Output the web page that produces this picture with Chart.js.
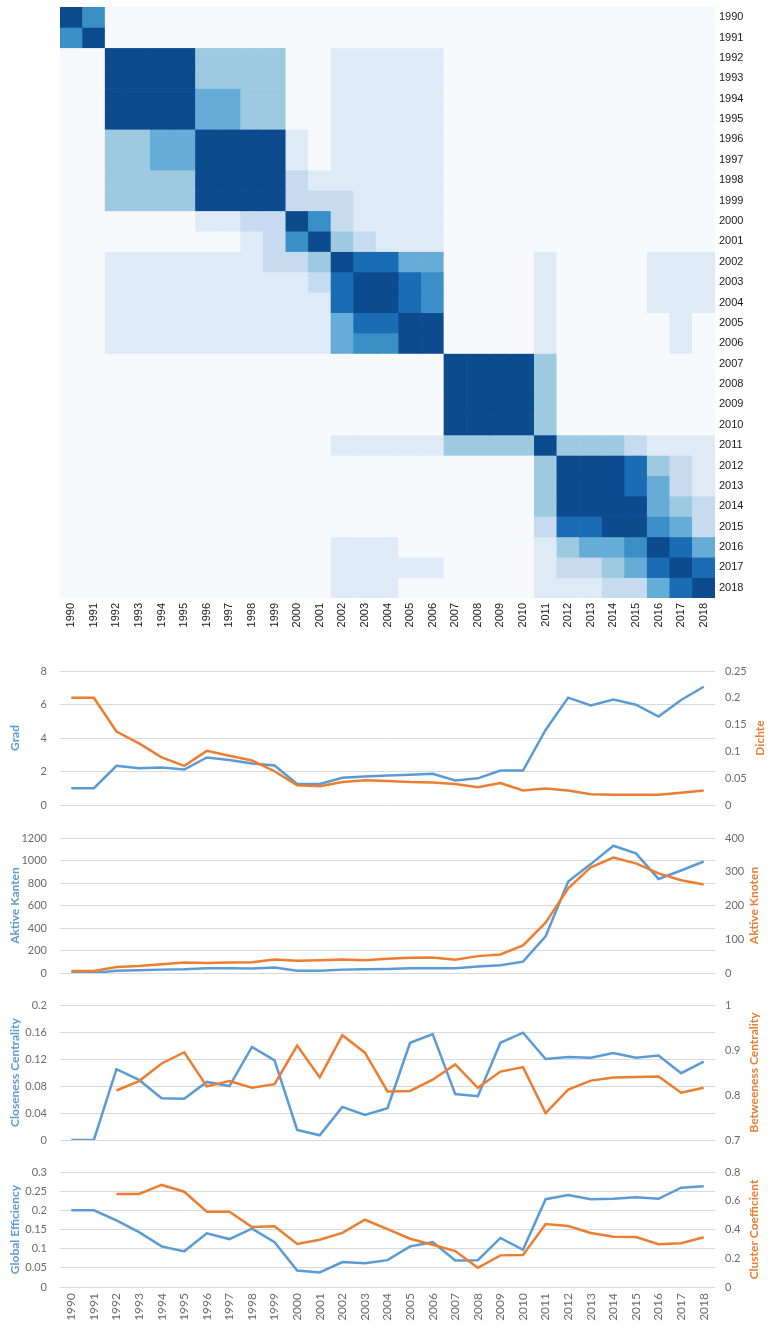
<!DOCTYPE html>
<html>
<head>
<meta charset="utf-8">
<script src="https://cdn.jsdelivr.net/npm/chart.js@4.4.1/dist/chart.umd.min.js"></script>
<style>
body { margin: 0; background: #fff; }
#wrap { position: relative; width: 784px; height: 1328px; overflow: hidden; }
canvas { position: absolute; left: 0; }
</style>
</head>
<body>
<div id="wrap">
  <canvas id="heat" width="784" height="650" style="top:0"></canvas>
  <canvas id="c1" width="784" height="158" style="top:659px"></canvas>
  <canvas id="c2" width="784" height="159" style="top:826px"></canvas>
  <canvas id="c3" width="784" height="159" style="top:993px"></canvas>
  <canvas id="c4" width="784" height="168" style="top:1160px"></canvas>
</div>
<script>
const years = ['1990','1991','1992','1993','1994','1995','1996','1997','1998','1999',
  '2000','2001','2002','2003','2004','2005','2006','2007','2008','2009',
  '2010','2011','2012','2013','2014','2015','2016','2017','2018']

// Farbstufe je Zelle (0 = leer, 7 = dunkelblau), eine Zeile pro Jahr
const heatRows = [
  '75000000000000000000000000000',
  '57000000000000000000000000000',
  '00777733330011111000000000000',
  '00777733330011111000000000000',
  '00777744330011111000000000000',
  '00777744330011111000000000000',
  '00334477771011111000000000000',
  '00334477771011111000000000000',
  '00333377772111111000000000000',
  '00333377772221111000000000000',
  '00000011227521111000000000000',
  '00000000125732111000000000000',
  '00111111122376644000010000111',
  '00111111111267765000010000111',
  '00111111111167765000010000111',
  '00111111111146677000010000010',
  '00111111111145577000010000010',
  '00000000000000000777730000000',
  '00000000000000000777730000000',
  '00000000000000000777730000000',
  '00000000000000000777730000000',
  '00000000000011111333373332111',
  '00000000000000000000037776321',
  '00000000000000000000037776421',
  '00000000000000000000037777432',
  '00000000000000000000026677542',
  '00000000000011100000013445764',
  '00000000000011111000012234676',
  '00000000000011100000011122467'
]

const grad = [1.0, 1.0, 2.34, 2.2, 2.24, 2.12, 2.84, 2.68, 2.48, 2.36, 1.25, 1.25, 1.63, 1.7, 1.76,
  1.8, 1.86, 1.47, 1.59, 2.06, 2.06, 4.48, 6.41, 5.95, 6.29, 5.99, 5.28, 6.27, 7.06]
const dichte = [0.2, 0.2, 0.137, 0.115, 0.089, 0.073, 0.101, 0.092, 0.083, 0.063, 0.037, 0.035, 0.043, 0.046, 0.045,
  0.043, 0.042, 0.039, 0.033, 0.041, 0.027, 0.031, 0.027, 0.020, 0.019, 0.019, 0.019, 0.023, 0.027]

const aktiveKanten = [0, 0, 21, 24, 30, 33, 42, 42, 39, 48, 21, 21, 30, 33, 36,
  42, 42, 42, 57, 68, 101, 327, 813, 968, 1131, 1063, 836, 911, 991]
const aktiveKnoten = [6, 6, 18, 21, 26, 31, 30, 31, 32, 40, 36, 38, 40, 38, 42,
  45, 46, 39, 50, 55, 82, 149, 251, 313, 342, 325, 295, 275, 262]

const closeness = [0, 0, 0.105, 0.089, 0.062, 0.061, 0.086, 0.080, 0.138, 0.118, 0.015, 0.007, 0.049, 0.037, 0.047,
  0.144, 0.157, 0.068, 0.065, 0.144, 0.159, 0.120, 0.123, 0.122, 0.129, 0.122, 0.125, 0.099, 0.116]
const betweeness = [null, null, 0.810, 0.831, 0.870, 0.895, 0.819, 0.831, 0.816, 0.824, 0.910, 0.839, 0.933, 0.894, 0.808,
  0.809, 0.834, 0.868, 0.816, 0.852, 0.862, 0.760, 0.812, 0.832, 0.839, 0.840, 0.841, 0.805, 0.816]

const globalEff = [0.2, 0.2, 0.174, 0.143, 0.106, 0.093, 0.140, 0.125, 0.152, 0.117, 0.043, 0.038, 0.065, 0.062, 0.070,
  0.106, 0.117, 0.069, 0.070, 0.128, 0.097, 0.229, 0.240, 0.229, 0.230, 0.234, 0.230, 0.259, 0.263]
const clusterCoef = [null, null, 0.647, 0.647, 0.710, 0.663, 0.524, 0.524, 0.417, 0.422, 0.299, 0.329, 0.376, 0.468, 0.403,
  0.336, 0.294, 0.250, 0.134, 0.220, 0.223, 0.438, 0.424, 0.376, 0.350, 0.348, 0.297, 0.304, 0.346]

const palette = ['#f7f9fc', '#deebf7', '#c6dbef', '#9ecae1', '#65acd6', '#3a8fc7', '#1a6cb4', '#0c4c8e']
const blau = '#5b9bd5'
const orange = '#ed7d31'
const grau = '#6b6b6b'
const schrift = 'Lato, "Open Sans", sans-serif'

// HEATMAP
new Chart(document.getElementById('heat'), {
  type: 'bar',
  data: {
    labels: years,
    datasets: heatRows.map((row, r) => ({
      label: years[r],
      data: years.map(() => 1),
      backgroundColor: row.split('').map(d => palette[+d]),
      borderWidth: 0,
      barPercentage: 1,
      categoryPercentage: 1
    }))
  },
  options: {
    responsive: false,
    animation: false,
    layout: { padding: { top: 7, left: 60 } },
    plugins: { legend: { display: false }, tooltip: { enabled: false } },
    scales: {
      x: {
        stacked: true,
        grid: { display: false, drawTicks: false },
        border: { display: false },
        ticks: { autoSkip: false, minRotation: 90, maxRotation: 90, padding: 5,
          color: '#1a1a1a', font: { family: '"Liberation Sans", Arial, sans-serif', size: 11 } },
        afterFit: s => { s.height = 52; s.paddingLeft = 0; s.paddingRight = 0 }
      },
      y: {
        stacked: true,
        position: 'right',
        reverse: true,
        min: 0,
        max: 29,
        grid: { display: false, drawTicks: false },
        border: { display: false },
        afterBuildTicks: s => { s.ticks = years.map((_, i) => ({ value: i + 0.5 })) },
        ticks: { autoSkip: false, padding: 4, callback: v => years[Math.floor(v)],
          color: '#1a1a1a', font: { family: '"Liberation Sans", Arial, sans-serif', size: 11 } },
        afterFit: s => { s.width = 69; s.paddingTop = 0; s.paddingBottom = 0 }
      }
    }
  }
})

// rechte Achsentitel von unten nach oben lesen
const rechterTitel = {
  id: 'rechterTitel',
  afterDraw(chart, args, opts) {
    const { ctx, chartArea } = chart
    ctx.save()
    ctx.translate(opts.x, (chartArea.top + chartArea.bottom) / 2)
    ctx.rotate(-Math.PI / 2)
    ctx.font = 'bold 12px ' + schrift
    ctx.fillStyle = orange
    ctx.textAlign = 'center'
    ctx.textBaseline = 'middle'
    ctx.fillText(opts.text, 0, 0)
    ctx.restore()
  }
}

const zahl = v => String(Math.round(v * 1000) / 1000)

function liniendiagramm(id, o) {
  return new Chart(document.getElementById(id), {
    type: 'line',
    data: {
      labels: years,
      datasets: [
        { data: o.links, yAxisID: 'y', borderColor: blau, backgroundColor: blau, order: 1 },
        { data: o.rechts, yAxisID: 'y1', borderColor: orange, backgroundColor: orange, order: 0 }
      ]
    },
    options: {
      responsive: false,
      animation: false,
      layout: { padding: { top: 12, bottom: o.mitX ? 0 : 12 } },
      elements: { point: { radius: 0 }, line: { borderWidth: 2.5, tension: 0 } },
      plugins: {
        legend: { display: false },
        tooltip: { enabled: false },
        rechterTitel: { text: o.titelRechts, x: o.titelX }
      },
      scales: {
        x: {
          display: o.mitX,
          offset: true,
          grid: { display: false, drawTicks: false },
          border: { display: false },
          ticks: { autoSkip: false, minRotation: 90, maxRotation: 90, padding: 6,
            color: grau, font: { family: schrift, size: 12 } },
          afterFit: s => { if (o.mitX) { s.height = 41; s.paddingLeft = 0; s.paddingRight = 0 } }
        },
        y: {
          position: 'left',
          min: o.lMin, max: o.lMax,
          grid: { color: '#d9d9d9', drawTicks: false },
          border: { display: false },
          ticks: { stepSize: o.lStep, autoSkip: false, padding: 13, color: grau,
            font: { family: schrift, size: 11 }, callback: zahl },
          title: { display: true, text: o.titelLinks, color: blau, padding: { top: 8, bottom: 0 },
            font: { family: schrift, size: 12, weight: 'bold' } },
          afterFit: s => { s.width = 60; s.paddingTop = 0; s.paddingBottom = 0 }
        },
        y1: {
          position: 'right',
          min: o.rMin, max: o.rMax,
          grid: { display: false, drawTicks: false },
          border: { display: false },
          ticks: { stepSize: o.rStep, autoSkip: false, padding: 10, color: grau,
            font: { family: schrift, size: 11 }, callback: zahl },
          afterFit: s => { s.width = 69; s.paddingTop = 0; s.paddingBottom = 0 }
        }
      }
    },
    plugins: [rechterTitel]
  })
}

liniendiagramm('c1', { links: grad, rechts: dichte, lMin: 0, lMax: 8, lStep: 2, rMin: 0, rMax: 0.25, rStep: 0.05,
  titelLinks: 'Grad', titelRechts: 'Dichte', titelX: 760, mitX: false })
liniendiagramm('c2', { links: aktiveKanten, rechts: aktiveKnoten, lMin: 0, lMax: 1200, lStep: 200, rMin: 0, rMax: 400, rStep: 100,
  titelLinks: 'Aktive Kanten', titelRechts: 'Aktive Knoten', titelX: 754, mitX: false })
liniendiagramm('c3', { links: closeness, rechts: betweeness, lMin: 0, lMax: 0.2, lStep: 0.04, rMin: 0.7, rMax: 1, rStep: 0.1,
  titelLinks: 'Closeness Centrality', titelRechts: 'Betweeness Centrality', titelX: 754, mitX: false })
liniendiagramm('c4', { links: globalEff, rechts: clusterCoef, lMin: 0, lMax: 0.3, lStep: 0.05, rMin: 0, rMax: 0.8, rStep: 0.2,
  titelLinks: 'Global Efficiency', titelRechts: 'Cluster Coefficient', titelX: 754, mitX: true })
</script>
</body>
</html>
